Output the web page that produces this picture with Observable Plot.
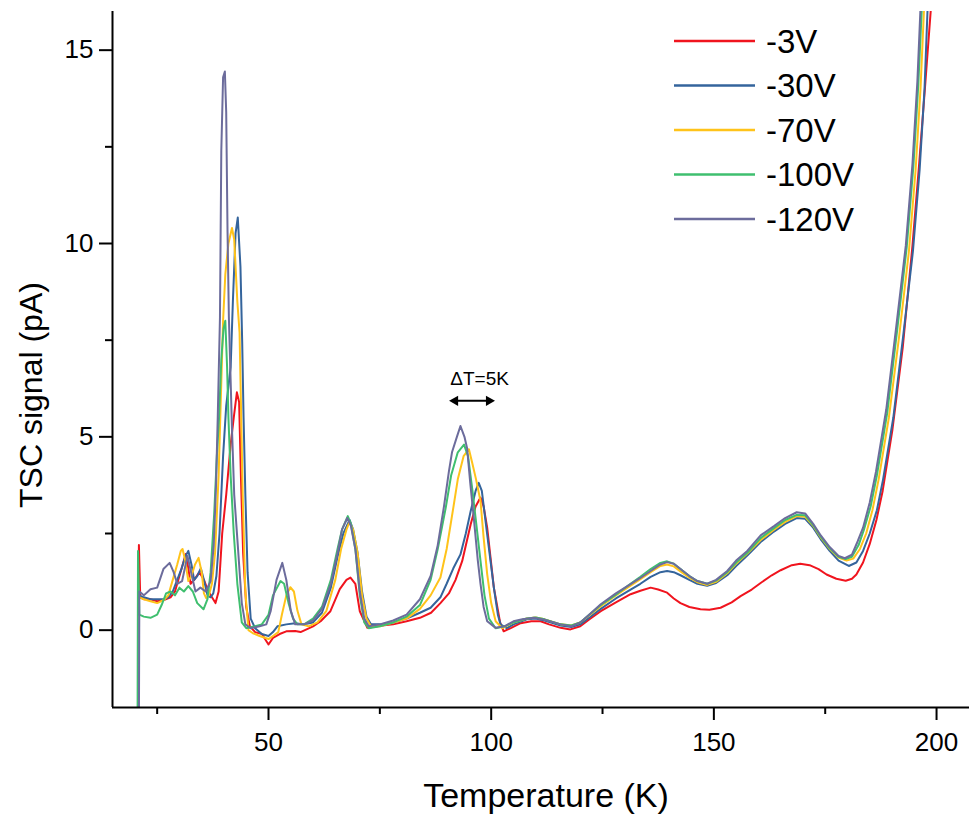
<!DOCTYPE html>
<html>
<head>
<meta charset="utf-8">
<script src="https://cdn.jsdelivr.net/npm/d3@7"></script>
<script src="https://cdn.jsdelivr.net/npm/@observablehq/plot@0.6"></script>
<style>
  html, body { margin: 0; padding: 0; background: #fff; }
  #chart { position: relative; width: 969px; height: 815px; }
  svg { font-family: "Liberation Sans", Arial, sans-serif; }
</style>
</head>
<body>
<div id="chart"></div>
<script>
// ---- data: [Temperature (K), TSC signal (pA)] ----
const seriesNames = ["-3V", "-30V", "-70V", "-100V", "-120V"];
const seriesColors = ["#f0141e", "#34649c", "#ffc31a", "#3fbf6f", "#6c6c9c"];

const curveMinus3V = [
  [20.8,0.9],[20.9,2.2],[21.2,0.85],[22,0.8],[23.5,0.8],[25,0.75],[26.5,0.78],[28,0.85],[29,1.0],[30,1.4],
  [31,1.8],[31.4,1.97],[32,1.6],[32.5,1.2],[33.3,1.3],[34.5,1.5],[35.5,1.3],[36.5,1.0],[38.1,0.7],[38.8,1.0],
  [39.6,2.5],[40.5,3.5],[41.5,4.8],[42.2,5.5],[42.9,6.15],[43.4,5.9],[43.8,4.0],[44.3,2.0],[45,0.6],[45.8,0.1],
  [47,-0.05],[48.5,-0.1],[50,-0.37],[51,-0.2],[52.5,-0.1],[54,-0.03],[56,-0.02],[57.2,-0.05],[60,0.1],[61.7,0.23],
  [63.9,0.49],[66,1.06],[67.5,1.3],[68.4,1.36],[69.5,1.2],[70.5,0.49],[72.2,0.06],[75.5,0.12],[78,0.15],[81,0.23],
  [84,0.32],[86.5,0.45],[88.6,0.7],[90.5,0.95],[92,1.3],[93.5,1.79],[95.4,2.74],[96.5,3.2],[97.6,3.43],[98.3,3.2],
  [99.1,2.65],[100.6,1.1],[102,0.2],[102.8,-0.03],[104.5,0.06],[106.6,0.18],[109,0.23],[111.1,0.23],[113,0.15],[115.6,0.06],
  [117.8,0.02],[120,0.1],[122,0.28],[124.6,0.49],[128,0.72],[131.3,0.93],[133.5,1.02],[135.8,1.1],[137.5,1.05],[139.5,0.97],
  [141,0.82],[142.5,0.7],[144.5,0.6],[147,0.54],[149,0.53],[151.5,0.58],[154,0.72],[156,0.88],[158.5,1.05],[160.5,1.22],
  [163,1.42],[165,1.55],[167.5,1.68],[169.4,1.72],[171.5,1.68],[173.5,1.58],[175.3,1.44],[177.5,1.33],[179.6,1.28],[181,1.33],
  [182,1.44],[183.5,1.75],[185,2.23],[186.5,2.85],[187.9,3.6],[190.1,5.19],[192.4,7.3],[194.6,9.95],[196.1,12.07],[197.5,14.18],
  [198.7,16.03],[199.3,18]
];

const curveMinus30V = [
  [20.8,0.9],[21,0.9],[22,0.85],[23.5,0.8],[25,0.8],[26.5,0.8],[27.5,0.85],[28.5,1.0],[29.5,1.3],[30.5,1.6],
  [31.3,1.9],[32,2.05],[32.7,1.7],[33.3,1.3],[34,1.4],[34.8,1.6],[35.5,1.3],[36.3,0.9],[37,0.85],[37.6,0.95],
  [38.3,1.4],[39,2.5],[39.8,4.5],[40.5,5.8],[41.5,6.8],[42,8.5],[42.6,10.26],[43.1,10.67],[43.7,9.4],[44.1,7.4],
  [44.4,5.5],[44.8,3.5],[45.3,1.5],[46,0.3],[47,0.05],[48.5,-0.1],[50,-0.15],[51,-0.05],[52,0.1],[54,0.15],
  [56,0.18],[58,0.15],[60,0.2],[62,0.45],[64,1.1],[65.5,1.9],[66.8,2.5],[68.2,2.85],[69,2.6],[70,2.0],
  [71,1.0],[72,0.35],[73,0.15],[75,0.15],[78,0.2],[81,0.3],[84,0.45],[86.4,0.58],[88.6,0.85],[90,1.2],
  [91.5,1.6],[93.1,1.96],[94.3,2.5],[95.4,3.08],[96.5,3.6],[97.2,3.81],[97.9,3.6],[99.1,2.48],[100.6,1.1],[101.5,0.4],
  [102.1,0.15],[103.5,0.05],[105,0.15],[108,0.28],[110,0.3],[112,0.25],[115.6,0.12],[118,0.08],[120,0.15],[122,0.32],
  [124.6,0.55],[128,0.82],[131.3,1.05],[133.5,1.2],[135.8,1.38],[138,1.5],[139.5,1.53],[141,1.5],[142.5,1.42],[144.5,1.3],
  [146.3,1.2],[148.5,1.15],[150.5,1.22],[153,1.42],[155,1.66],[157.5,1.93],[160.5,2.28],[163.5,2.55],[166,2.75],[168.6,2.9],
  [170.5,2.88],[172.3,2.65],[174,2.35],[176,2.05],[178,1.8],[180.3,1.66],[182,1.75],[183.5,2.05],[185,2.5],[186.6,3.1],
  [188,3.9],[190.3,5.5],[192.5,7.6],[194.7,9.8],[196.2,11.9],[197.3,14.0],[198,16.1],[198.5,18]
];

const curveMinus70V = [
  [20.8,1.0],[21,0.85],[22,0.8],[23.5,0.75],[25,0.7],[26.5,0.78],[27.5,0.9],[28.5,1.3],[29.5,1.7],[30.3,2.05],
  [30.7,2.1],[31.3,1.8],[32,1.27],[32.7,1.4],[33.5,1.7],[34.3,1.87],[35,1.5],[35.5,0.95],[36,0.83],[36.6,0.9],
  [37.3,1.2],[38,2.0],[38.8,4.0],[39.3,6.0],[39.8,8.0],[40.3,9.2],[41,10.0],[41.8,10.4],[42.3,10.1],[43,8.5],
  [43.5,7.7],[43.8,5.9],[44.2,3.5],[44.8,1.0],[45.5,0.0],[46.5,-0.08],[48,-0.15],[50,-0.23],[51,-0.15],[52.2,-0.05],
  [53,0.4],[54,0.9],[54.9,1.11],[55.7,1.0],[56.5,0.5],[57.4,0.15],[59,0.1],[61,0.2],[63,0.5],[65,1.3],
  [66.3,2.1],[67.5,2.6],[68.2,2.8],[69,2.6],[70,2.0],[71,0.9],[72,0.3],[73,0.1],[75,0.1],[78,0.2],
  [81,0.3],[84,0.55],[86.4,0.9],[88.6,1.36],[90,2.1],[91.5,3.17],[92.5,3.9],[93.8,4.5],[95,4.68],[95.8,4.3],
  [96.6,3.9],[97.6,3.34],[98.3,2.4],[99.1,1.45],[100,0.7],[101,0.23],[102.5,0.05],[105,0.2],[108,0.3],[110,0.33],
  [112,0.28],[115.6,0.15],[118,0.12],[120,0.2],[122,0.38],[124.6,0.62],[128,0.9],[131.3,1.15],[133.5,1.32],[135.8,1.5],
  [138,1.66],[139.5,1.7],[141,1.65],[142.5,1.52],[144.5,1.36],[146.3,1.24],[148.5,1.17],[150.5,1.25],[153,1.47],[155,1.72],
  [157.5,1.98],[160.5,2.33],[163.5,2.6],[166,2.8],[168.6,2.95],[170.5,2.93],[172.3,2.7],[174,2.4],[176,2.1],[178,1.88],
  [179.8,1.8],[181.3,1.85],[182.8,2.1],[184.2,2.5],[185.6,3.1],[187,3.9],[189.3,5.5],[191.6,7.6],[193.8,9.8],[195.3,11.9],
  [196.4,14.0],[197.2,16.1],[197.7,18]
];

const curveMinus100V = [
  [20.6,-2.2],[20.7,2.05],[21,0.4],[22,0.35],[23.5,0.32],[25,0.4],[26,0.65],[27,0.95],[28,1.0],[29,0.9],
  [30,1.1],[31,1.0],[32,1.14],[33,1.0],[34,0.7],[35.4,0.54],[36.3,0.8],[37,1.5],[37.8,3.0],[38.4,4.5],
  [38.9,5.5],[39.4,7.0],[39.9,7.8],[40.3,8.0],[40.7,6.8],[41,5.5],[41.5,4.0],[42.2,2.5],[43,1.2],[44,0.2],
  [45,0.05],[47,0.1],[48.5,0.15],[50,0.4],[51,0.9],[52.7,1.27],[53.5,1.2],[54.5,0.7],[55.5,0.3],[56.5,0.15],
  [58,0.15],[60,0.3],[62,0.6],[64,1.3],[65.5,2.1],[66.5,2.6],[67.8,2.95],[68.5,2.75],[69.5,2.1],[70.5,0.9],
  [71.5,0.2],[72.5,0.05],[75,0.1],[78,0.2],[81,0.35],[84,0.65],[86.4,1.3],[88,2.1],[89.8,3.17],[91,4.0],
  [92.5,4.6],[93.9,4.8],[94.8,4.5],[95.8,3.6],[96.8,2.6],[97.6,1.79],[98.5,0.9],[99.5,0.3],[101,0.05],[103,0.1],
  [105,0.2],[108,0.3],[110,0.33],[112,0.28],[115.6,0.15],[118,0.12],[120,0.2],[122,0.4],[124.6,0.65],[128,0.92],
  [131.3,1.2],[133.5,1.38],[135.8,1.58],[138,1.74],[139.5,1.78],[141,1.72],[142.5,1.58],[144.5,1.4],[146.3,1.27],[148.5,1.2],
  [150.5,1.28],[153,1.5],[155,1.75],[157.5,2.0],[160.5,2.38],[163.5,2.64],[166,2.85],[168.6,2.98],[170.5,2.97],[172.3,2.72],
  [174,2.42],[176,2.12],[178,1.9],[179.6,1.84],[181,1.9],[182.5,2.2],[183.7,2.6],[185.2,3.2],[186.6,4.0],[188.9,5.6],
  [191.1,7.7],[193.3,9.9],[194.8,12.0],[195.9,14.1],[196.7,16.1],[197.2,18]
];

const curveMinus120V = [
  [20.9,-2.5],[21,1.0],[22,0.9],[23.5,1.06],[25,1.1],[26.4,1.58],[27.8,1.74],[28.7,1.5],[29.5,1.2],[30.6,1.27],
  [31.8,1.92],[32.9,1.35],[33.6,1.0],[34.7,1.1],[35.9,1.0],[37,1.27],[37.7,2.2],[38.2,3.7],[38.6,5.5],[39.1,8.1],
  [39.4,12.4],[39.8,14.3],[40.2,14.45],[40.5,13.4],[40.8,10.3],[41.1,8.1],[41.8,5.2],[42.3,3.5],[43.1,2.2],[44,0.7],
  [44.8,0.15],[46,0.05],[48,0.1],[49.5,0.15],[50.5,0.5],[51.8,1.3],[53.1,1.74],[54,1.3],[55,0.5],[56,0.15],
  [58,0.15],[60,0.25],[62,0.55],[64,1.2],[65.5,2.0],[66.5,2.6],[67.7,2.9],[68.5,2.7],[69.5,2.1],[70.5,1.0],
  [71.5,0.3],[72.5,0.1],[75,0.15],[78,0.25],[81,0.4],[84,0.8],[86.4,1.4],[88,2.2],[89.4,3.2],[90.5,4.1],
  [91.2,4.6],[92.3,5.0],[93.1,5.28],[94,5.0],[94.6,4.7],[95.3,3.8],[96.1,2.9],[97,1.8],[97.6,1.2],[98.3,0.6],
  [99.1,0.23],[101,0.06],[103,0.1],[105,0.23],[107,0.28],[109.6,0.32],[112,0.27],[115.6,0.15],[118,0.1],[120,0.2],
  [122,0.4],[124.6,0.67],[128,0.95],[131.3,1.19],[133.5,1.35],[135.8,1.53],[138,1.7],[139.5,1.76],[141,1.72],[142.5,1.58],
  [144.5,1.4],[146.3,1.27],[148.5,1.2],[150.5,1.3],[153,1.53],[155,1.8],[157.5,2.05],[160.5,2.45],[163.5,2.69],[166,2.9],
  [168.6,3.05],[170.5,3.02],[172.3,2.75],[174,2.45],[176,2.15],[178,1.92],[179.4,1.86],[181,1.95],[182.3,2.3],[183.5,2.65],
  [185,3.3],[186.4,4.1],[188.7,5.7],[190.9,7.8],[193.1,9.95],[194.6,12.07],[195.7,14.2],[196.4,16.1],[197,18]
];

const seriesCurves = [curveMinus3V, curveMinus30V, curveMinus70V, curveMinus100V, curveMinus120V];

// axis ticks
const xMajorTicks = [50, 100, 150, 200];
const xMinorTicks = [25, 75, 125, 175];
const yMajorTicks = [0, 5, 10, 15];
const yMinorTicks = [2.5, 7.5, 12.5];
const xDomain = [14.97, 207.4];
const yDomain = [-2, 16];

// annotation
const annotationText = ["\u0394T=5K"];
const annotationArrow = [[91.9, 99.5, 5.93]]; // from K, to K, at pA
const annotationLabel = [[97.4, 6.5]];

// ---- build ----
const rows = [];
seriesCurves.forEach((c, i) => c.forEach(([t, v]) => rows.push({series: seriesNames[i], t, v})));

const font = "'Liberation Sans', Arial, sans-serif";

const lineMarks = seriesNames.map((name, i) =>
  Plot.line(rows.filter(d => d.series === name), {
    x: "t", y: "v", stroke: seriesColors[i], strokeWidth: 2, clip: true
  })
);

const chart = Plot.plot({
  width: 969,
  height: 815,
  marginTop: 11,
  marginBottom: 108,
  marginLeft: 112,
  marginRight: 0,
  style: {fontFamily: font, background: "white", overflow: "visible"},
  x: {domain: xDomain},
  y: {domain: yDomain},
  marks: [
    ...lineMarks,
    Plot.ruleX([xDomain[0]], {stroke: "black", strokeWidth: 2}),
    Plot.ruleY([yDomain[0]], {stroke: "black", strokeWidth: 2}),
    Plot.axisX({ticks: xMajorTicks, tickSize: 13, tickPadding: 12, fontSize: 26, strokeWidth: 2, label: null, tickFormat: d => String(d), fill: "black"}),
    Plot.axisX({ticks: xMinorTicks, tickSize: 7, strokeWidth: 2, label: null, tickFormat: () => ""}),
    Plot.axisY({ticks: yMajorTicks, tickSize: 13, tickPadding: 6, fontSize: 26, strokeWidth: 2, label: null, tickFormat: d => String(d), fill: "black"}),
    Plot.axisY({ticks: yMinorTicks, tickSize: 7, strokeWidth: 2, label: null, tickFormat: () => ""}),
    Plot.link(annotationArrow, {x1: d => d[0], x2: d => d[1], y1: d => d[2], y2: d => d[2], stroke: "black", strokeWidth: 2}),
    Plot.dot(annotationArrow, {x: d => d[0], y: d => d[2], symbol: "triangle2", r: 5, fill: "black", rotate: -90}),
    Plot.dot(annotationArrow, {x: d => d[1], y: d => d[2], symbol: "triangle2", r: 5, fill: "black", rotate: 90}),
    Plot.text(annotationLabel, {x: d => d[0], y: d => d[1], text: () => annotationText[0], fontSize: 19, fill: "black"})
  ]
});

document.getElementById("chart").appendChild(chart);

const svg = d3.select(chart);
// axis titles
svg.append("text")
  .attr("x", 546).attr("y", 807)
  .attr("text-anchor", "middle")
  .attr("font-family", font).attr("font-size", 34).attr("fill", "black")
  .text("Temperature (K)");
svg.append("text")
  .attr("transform", "translate(42,395) rotate(-90)")
  .attr("text-anchor", "middle")
  .attr("font-family", font).attr("font-size", 32).attr("fill", "black")
  .text("TSC signal (pA)");

// legend
const legend = svg.append("g");
seriesNames.forEach((name, i) => {
  const y = 41 + i * 44.5;
  legend.append("line").attr("x1", 674).attr("x2", 755).attr("y1", y).attr("y2", y)
    .attr("stroke", seriesColors[i]).attr("stroke-width", 2.6);
  legend.append("text").attr("x", 766).attr("y", y).attr("dy", "0.36em")
    .attr("text-anchor", "start")
    .attr("font-family", font).attr("font-size", 33).attr("fill", "black")
    .text(name);
});
</script>
</body>
</html>
